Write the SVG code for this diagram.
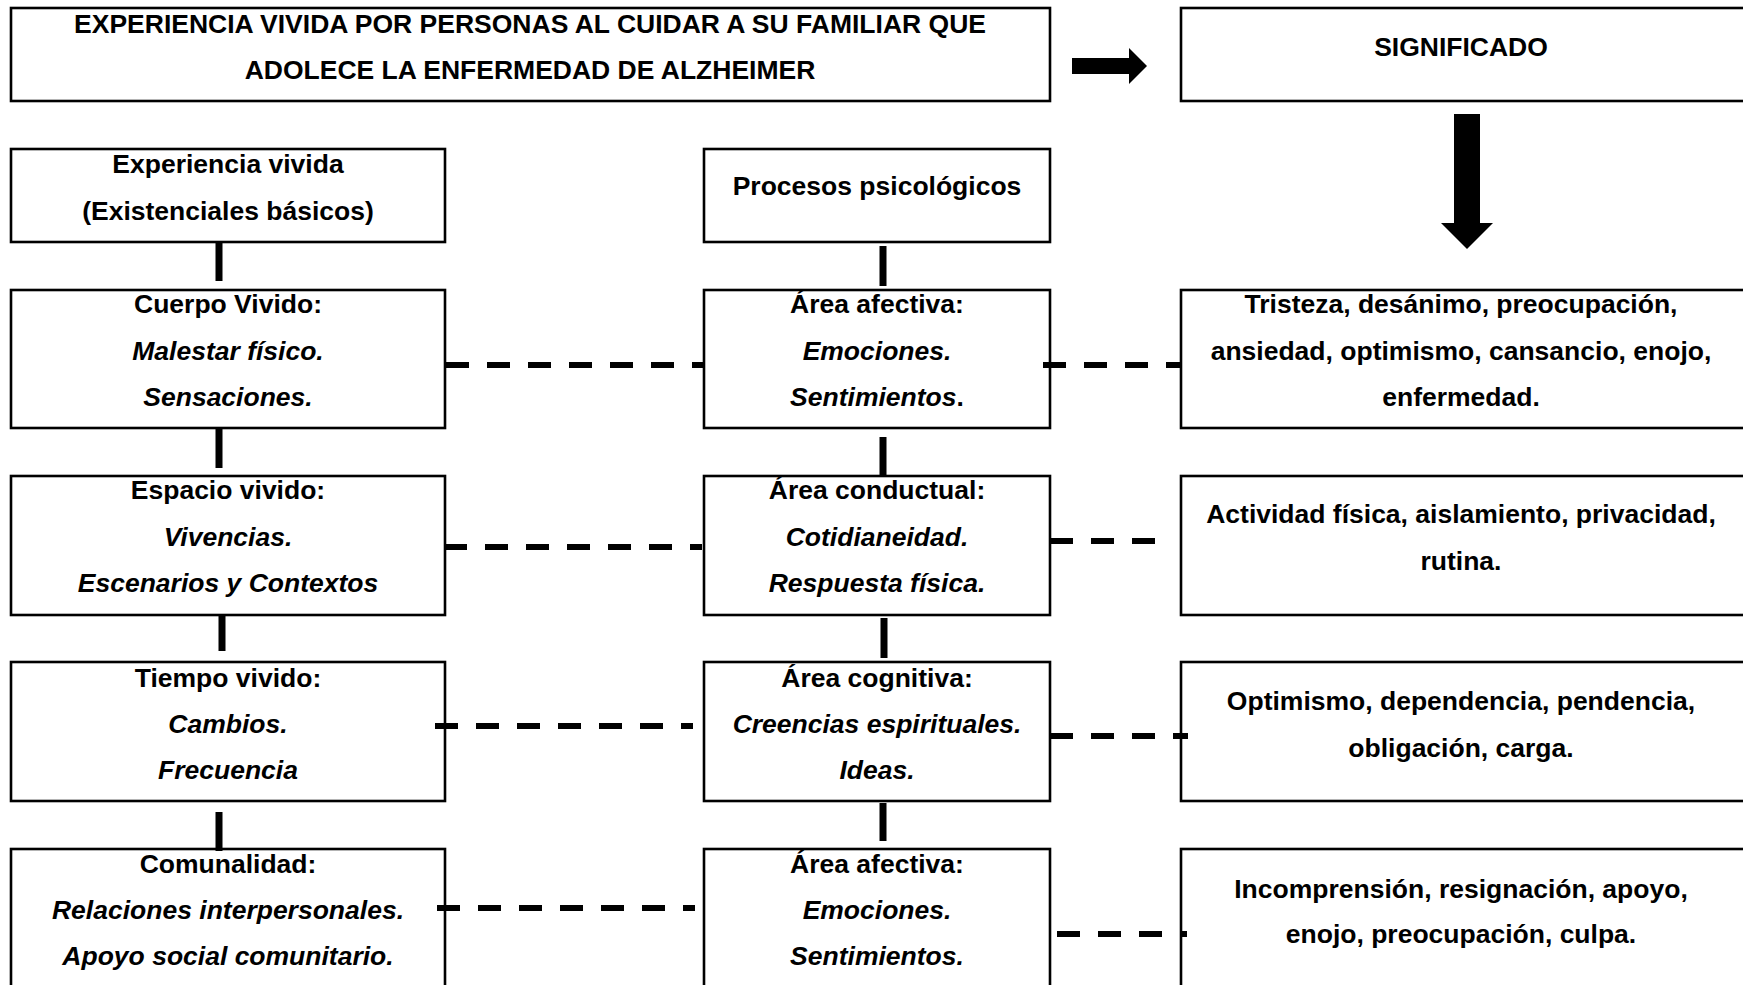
<svg xmlns="http://www.w3.org/2000/svg" width="1743" height="985" viewBox="0 0 1743 985">
<style>
.box{fill:#fff;stroke:#000;stroke-width:2.6}
.t{font-family:"Liberation Sans",Arial,sans-serif;font-weight:bold;font-size:26.5px;fill:#000;text-anchor:middle}
.i{font-style:italic}
.solid{stroke:#000;stroke-width:7;fill:none}
.dash{stroke:#000;stroke-width:6;fill:none;stroke-dasharray:23 18}
</style>
<rect width="1743" height="985" fill="#fff"/>
<g id="title">
<rect class="box" x="11" y="8" width="1039" height="93"/>
<text class="t" x="530" y="33">EXPERIENCIA VIVIDA POR PERSONAS AL CUIDAR A SU FAMILIAR QUE</text>
<text class="t" x="530" y="79">ADOLECE LA ENFERMEDAD DE ALZHEIMER</text>
</g>
<g id="significado">
<rect class="box" x="1181" y="8" width="580" height="93"/>
<text class="t" x="1461" y="56">SIGNIFICADO</text>
</g>
<g id="col-left">
<g id="exp"><rect class="box" x="11" y="149" width="434" height="93"/>
<text class="t" x="228" y="173">Experiencia vivida</text>
<text class="t" x="228" y="220">(Existenciales básicos)</text></g>
<g id="cuerpo"><rect class="box" x="11" y="290" width="434" height="138"/>
<text class="t" x="228" y="313">Cuerpo Vivido:</text>
<text class="t i" x="228" y="360">Malestar físico.</text>
<text class="t i" x="228" y="406">Sensaciones.</text></g>
<g id="espacio"><rect class="box" x="11" y="476" width="434" height="139"/>
<text class="t" x="228" y="499">Espacio vivido:</text>
<text class="t i" x="228" y="546">Vivencias.</text>
<text class="t i" x="228" y="592">Escenarios y Contextos</text></g>
<g id="tiempo"><rect class="box" x="11" y="662" width="434" height="139"/>
<text class="t" x="228" y="687">Tiempo vivido:</text>
<text class="t i" x="228" y="733">Cambios.</text>
<text class="t i" x="228" y="779">Frecuencia</text></g>
<g id="comunalidad"><rect class="box" x="11" y="849" width="434" height="160"/>
<text class="t" x="228" y="873">Comunalidad:</text>
<text class="t i" x="228" y="919">Relaciones interpersonales.</text>
<text class="t i" x="228" y="965">Apoyo social comunitario.</text></g>
</g>
<g id="col-mid">
<g id="procesos"><rect class="box" x="704" y="149" width="346" height="93"/>
<text class="t" x="877" y="195">Procesos psicológicos</text></g>
<g id="afectiva1"><rect class="box" x="704" y="290" width="346" height="138"/>
<text class="t" x="877" y="313">Área afectiva:</text>
<text class="t i" x="877" y="360">Emociones.</text>
<text class="t" x="877" y="406"><tspan class="i">Sentimientos</tspan>.</text></g>
<g id="conductual"><rect class="box" x="704" y="476" width="346" height="139"/>
<text class="t" x="877" y="499">Área conductual:</text>
<text class="t i" x="877" y="546">Cotidianeidad.</text>
<text class="t i" x="877" y="592">Respuesta física.</text></g>
<g id="cognitiva"><rect class="box" x="704" y="662" width="346" height="139"/>
<text class="t" x="877" y="687">Área cognitiva:</text>
<text class="t i" x="877" y="733">Creencias espirituales.</text>
<text class="t i" x="877" y="779">Ideas.</text></g>
<g id="afectiva2"><rect class="box" x="704" y="849" width="346" height="160"/>
<text class="t" x="877" y="873">Área afectiva:</text>
<text class="t i" x="877" y="919">Emociones.</text>
<text class="t i" x="877" y="965">Sentimientos.</text></g>
</g>
<g id="col-right">
<g id="r1"><rect class="box" x="1181" y="290" width="580" height="138"/>
<text class="t" x="1461" y="313">Tristeza, desánimo, preocupación,</text>
<text class="t" x="1461" y="360">ansiedad, optimismo, cansancio, enojo,</text>
<text class="t" x="1461" y="406">enfermedad.</text></g>
<g id="r2"><rect class="box" x="1181" y="476" width="580" height="139"/>
<text class="t" x="1461" y="523">Actividad física, aislamiento, privacidad,</text>
<text class="t" x="1461" y="570">rutina.</text></g>
<g id="r3"><rect class="box" x="1181" y="662" width="580" height="139"/>
<text class="t" x="1461" y="710">Optimismo, dependencia, pendencia,</text>
<text class="t" x="1461" y="757">obligación, carga.</text></g>
<g id="r4"><rect class="box" x="1181" y="849" width="580" height="160"/>
<text class="t" x="1461" y="898">Incomprensión, resignación, apoyo,</text>
<text class="t" x="1461" y="943">enojo, preocupación, culpa.</text></g>
</g>
<g id="connectors">
<path d="M1072 58 H1129 V48 L1147 66 L1129 84 V74 H1072 Z" fill="#000"/>
<path d="M1454 114 H1480 V223 H1493 L1467 249 L1441 223 H1454 Z" fill="#000"/>
<path class="solid" d="M219 242 V281 M219 428 V468 M222 615 V651 M219 812 V851"/>
<path class="solid" d="M883 246 V286 M883 437 V476 M884 618 V658 M883 803 V841"/>
<path class="dash" d="M446 365 H704"/>
<path class="dash" d="M1043 365 H1181"/>
<path class="dash" d="M444 547 H702"/>
<path class="dash" d="M1050 541 H1158"/>
<path class="dash" d="M435 726 H693"/>
<path class="dash" d="M1050 736 H1188"/>
<path class="dash" d="M437 908 H695"/>
<path class="dash" d="M1057 934 H1187"/>
</g>
</svg>
